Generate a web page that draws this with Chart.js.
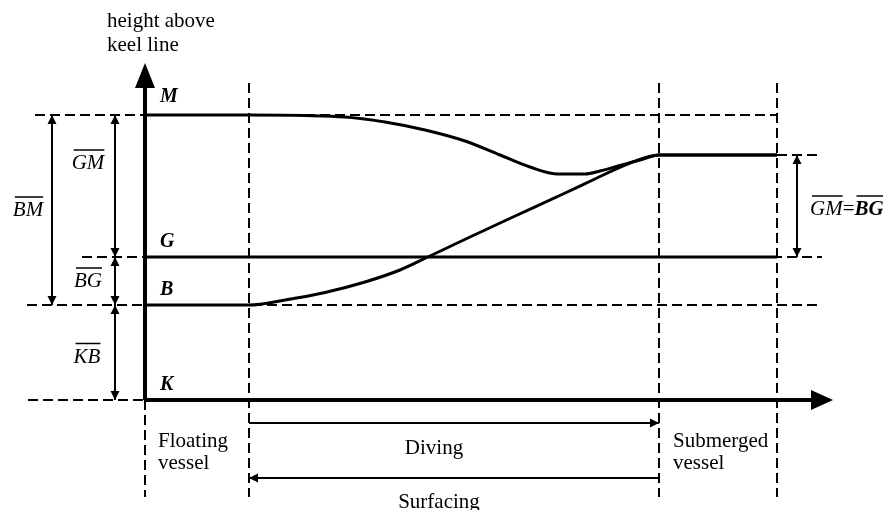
<!DOCTYPE html>
<html><head><meta charset="utf-8">
<script src="https://cdn.jsdelivr.net/npm/chart.js@4/dist/chart.umd.min.js"></script>
<style>html,body{margin:0;padding:0;background:#fff}#wrap{width:883px;height:510px}</style>
</head><body><div id="wrap"><canvas id="c" width="883" height="510"></canvas></div>
<script>
// ---- data (time axis in arbitrary units, height above keel line in arbitrary units) ----
const phaseBounds = [0, 10.4, 51.4, 63.2];               // start floating | start diving | submerged | end
const phaseNames  = ['Floating vessel', 'Diving', 'Submerged vessel', 'Surfacing'];
const levelNames  = ['K', 'B', 'G', 'M'];
const levelHeights = [0, 9.5, 14.3, 28.5];              // K, B, G, M while floating
const submergedLevel = 24.5;                             // B = M when submerged
const dimNames = ['BM', 'GM', 'BG', 'KB'];
// metacentre M during the manoeuvre
const mX = [0, 10.4, 16.0, 20.0, 24.0, 28.0, 32.0, 35.5, 38.5, 41.3, 44.0, 45.5, 47.5, 49.5, 51.4, 63.2];
const mY = [28.5, 28.5, 28.45, 28.3, 27.8, 27.0, 25.9, 24.5, 23.3, 22.6, 22.6, 22.9, 23.45, 24.0, 24.5, 24.5];
// centre of buoyancy B during the manoeuvre
const bX = [0, 10.4, 14.0, 18.0, 22.0, 25.5, 28.5, 32.5, 36.8, 41.8, 45.2, 48.5, 51.4, 63.2];
const bY = [9.5, 9.5, 10.0, 10.75, 11.8, 13.0, 14.4, 16.3, 18.3, 20.6, 22.2, 23.7, 24.5, 24.5];

const [K, B, G, M] = levelHeights;
const pts = (xs, ys) => xs.map((v, i) => ({x: v, y: ys[i]}));
const seg = (x1, y1, x2, y2) => [{x: x1, y: y1}, {x: x2, y: y2}];

const DASH = [10, 5];
function dashed(data) { return {data, borderColor: '#000', borderWidth: 2, borderDash: DASH, pointRadius: 0, tension: 0}; }
function solid(data, w) { return {data, borderColor: '#000', borderWidth: w, pointRadius: 0, tension: 0}; }

// arrow definitions [x1,y1,x2,y2, headAtStart, headAtEnd]
const arrows = [
  [-9.3, B, -9.3, M, true, true],
  [-3.0, G, -3.0, M, true, true],
  [-3.0, B, -3.0, G, true, true],
  [-3.0, K, -3.0, B, true, true],
  [65.2, G, 65.2, submergedLevel, true, true],
  [phaseBounds[1], -2.3, phaseBounds[2], -2.3, false, true],
  [phaseBounds[2], -7.8, phaseBounds[1], -7.8, false, true]
];

const datasets = [
  // guides
  dashed(seg(-11.0, M, 63.2, M)),
  dashed(seg(-11.8, B, 67.4, B)),
  dashed(seg(-6.3, G, 67.7, G)),
  dashed(seg(63.2, submergedLevel, 67.7, submergedLevel)),
  dashed(seg(-11.7, K, 0, K)),
  dashed(seg(phaseBounds[0], K, phaseBounds[0], -9.7)),
  dashed(seg(phaseBounds[1], 31.7, phaseBounds[1], -9.7)),
  dashed(seg(phaseBounds[2], 31.7, phaseBounds[2], -9.7)),
  dashed(seg(phaseBounds[3], 31.7, phaseBounds[3], -9.7)),
  // axes
  solid(seg(0, K, 66.8, K), 4),
  solid(seg(0, K, 0, 31.2), 4),
  // G line
  solid(seg(0, G, phaseBounds[3], G), 3),
  // M and B paths
  Object.assign(solid(pts(mX, mY), 3), {cubicInterpolationMode: 'monotone'}),
  Object.assign(solid(pts(bX, bY), 3), {cubicInterpolationMode: 'monotone'}),
  // dimension arrow shafts
  ...arrows.map(a => solid(seg(a[0], a[1], a[2], a[3]), 2))
];

function head(ctx, tx, ty, fx, fy, len, hw) {
  const dx = tx - fx, dy = ty - fy, d = Math.hypot(dx, dy) || 1;
  const ux = dx / d, uy = dy / d;
  const bx = tx - ux * len, by = ty - uy * len;
  ctx.beginPath();
  ctx.moveTo(tx, ty);
  ctx.lineTo(bx - uy * hw, by + ux * hw);
  ctx.lineTo(bx + uy * hw, by - ux * hw);
  ctx.closePath();
  ctx.fill();
}

function overText(ctx, txt, x, yb, align) {
  const w = ctx.measureText(txt).width;
  let left = align === 'center' ? x - w / 2 : x;
  ctx.textAlign = 'left';
  ctx.fillText(txt, left, yb);
  ctx.beginPath();
  ctx.lineWidth = 1.5;
  ctx.moveTo(left + 2, yb - 19);
  ctx.lineTo(left + w, yb - 19);
  ctx.stroke();
  return w;
}

const overlay = {
  id: 'overlay',
  afterDatasetsDraw(chart) {
    const {ctx} = chart;
    const xs = chart.scales.x, ys = chart.scales.y;
    const X = v => xs.getPixelForValue(v), Y = v => ys.getPixelForValue(v);
    ctx.save();
    ctx.fillStyle = '#000'; ctx.strokeStyle = '#000';
    // axis heads
    head(ctx, X(68.8), Y(K), X(0), Y(K), 22, 10);
    head(ctx, X(0), Y(33.7), X(0), Y(K), 25, 10);
    // dimension arrow heads
    arrows.forEach(a => {
      const [x1, y1, x2, y2, s, e] = a;
      if (s) head(ctx, X(x1), Y(y1), X(x2), Y(y2), 9, 4.5);
      if (e) head(ctx, X(x2), Y(y2), X(x1), Y(y1), 9, 4.5);
    });
    // tail tick of the surfacing arrow
    ctx.lineWidth = 2;
    ctx.beginPath();
    ctx.moveTo(X(phaseBounds[2]), Y(-7.8) - 5);
    ctx.lineTo(X(phaseBounds[2]), Y(-7.8) + 5);
    ctx.stroke();
    // axis title
    ctx.font = '21px "Liberation Serif"';
    ctx.textAlign = 'left'; ctx.textBaseline = 'alphabetic';
    ctx.fillText('height above', X(0) - 38, Y(33.7) - 36);
    ctx.fillText('keel line', X(0) - 38, Y(33.7) - 12);
    // level letters
    ctx.font = 'italic bold 20px "Liberation Serif"';
    levelNames.forEach((n, i) => {
      const off = n === 'M' ? 13 : 10;
      ctx.fillText(n, X(0) + 15, Y(levelHeights[i]) - off);
    });
    // dimension labels
    ctx.font = 'italic 21px "Liberation Serif"';
    overText(ctx, dimNames[0], X(-9.3) - 24, Y((B + M) / 2) + 6, 'center');
    overText(ctx, dimNames[1], X(-3.0) - 27, Y((G + M) / 2) - 17, 'center');
    overText(ctx, dimNames[2], X(-3.0) - 27, Y((B + G) / 2) + 6, 'center');
    overText(ctx, dimNames[3], X(-3.0) - 28, Y((K + B) / 2) + 10, 'center');
    let lx = X(65.2) + 13, ly = Y((G + submergedLevel) / 2) + 9;
    lx += overText(ctx, 'GM', lx, ly, 'left');
    ctx.font = '21px "Liberation Serif"';
    ctx.fillText('=', lx, ly); lx += ctx.measureText('=').width;
    ctx.font = 'italic bold 21px "Liberation Serif"';
    overText(ctx, 'BG', lx, ly, 'left');
    // phase labels
    ctx.font = '21px "Liberation Serif"';
    const [fl, dv, sm, sf] = phaseNames;
    const fw = fl.split(' '), sw = sm.split(' ');
    ctx.textAlign = 'left';
    ctx.fillText(fw[0], X(phaseBounds[0]) + 13, 447);
    ctx.fillText(fw[1], X(phaseBounds[0]) + 13, 469);
    ctx.fillText(sw[0], X(phaseBounds[2]) + 14, 447);
    ctx.fillText(sw[1], X(phaseBounds[2]) + 14, 469);
    ctx.textAlign = 'center';
    const mid = (X(phaseBounds[1]) + X(phaseBounds[2])) / 2;
    ctx.fillText(dv, mid - 20, 454);
    ctx.fillText(sf, mid - 15, 508);
    ctx.restore();
  }
};

new Chart(document.getElementById('c'), {
  type: 'line',
  data: {datasets},
  options: {
    responsive: false,
    animation: false,
    devicePixelRatio: 1,
    layout: {padding: 0},
    plugins: {legend: {display: false}, title: {display: false}, tooltip: {enabled: false}},
    scales: {
      x: {type: 'linear', min: -14.5, max: 73.8, display: false},
      y: {type: 'linear', min: -11, max: 40, display: false}
    }
  },
  plugins: [overlay]
});
</script></body></html>
